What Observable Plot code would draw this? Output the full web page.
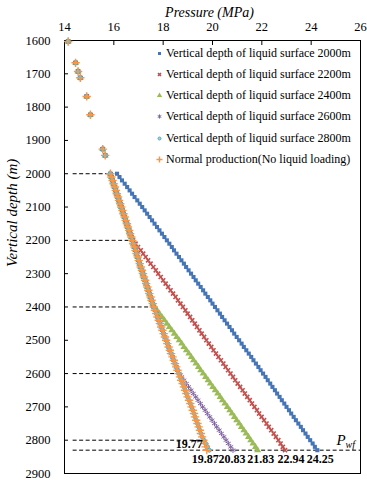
<!DOCTYPE html>
<html><head><meta charset="utf-8">
<script src="https://cdn.jsdelivr.net/npm/d3@7"></script>
<script src="https://cdn.jsdelivr.net/npm/@observablehq/plot@0.6"></script>
<style>
body{margin:0;background:#fff;}
#wrap{position:relative;width:367px;height:480px;}
#legend{position:absolute;left:155px;top:42.7px;font-family:'Liberation Serif','Times New Roman',serif;font-size:12px;color:#000;}
.row{height:21.2px;display:flex;align-items:center;white-space:nowrap;}
.row svg{margin-right:2px;}
</style></head><body><div id="wrap"><div id="legend"></div></div>
<script>
const xTicks = [14, 16, 18, 20, 22, 24, 26];
const yTicks = [1600, 1700, 1800, 1900, 2000, 2100, 2200, 2300, 2400, 2500, 2600, 2700, 2800, 2900];
const seriesNames = [
  "Vertical depth of liquid surface 2000m",
  "Vertical depth of liquid surface 2200m",
  "Vertical depth of liquid surface 2400m",
  "Vertical depth of liquid surface 2600m",
  "Vertical depth of liquid surface 2800m",
  "Normal production(No liquid loading)"
];
const surfaceDepth = [2000, 2200, 2400, 2600, 2800];

// gas column above 2000 m (shared by all series)
const upperDepth = [1603, 1667, 1693, 1712, 1768, 1823, 1926, 1945];
const upperPressure = [14.15, 14.45, 14.55, 14.64, 14.90, 15.05, 15.55, 15.65];

// depths from 2000 m to the bottom (Pwf depth 2830 m)
const depth = [2000,2010,2020,2030,2040,2050,2060,2070,2080,2090,
  2100,2110,2120,2130,2140,2150,2160,2170,2180,2190,
  2200,2210,2220,2230,2240,2250,2260,2270,2280,2290,
  2300,2310,2320,2330,2340,2350,2360,2370,2380,2390,
  2400,2410,2420,2430,2440,2450,2460,2470,2480,2490,
  2500,2510,2520,2530,2540,2550,2560,2570,2580,2590,
  2600,2610,2620,2630,2640,2650,2660,2670,2680,2690,
  2700,2710,2720,2730,2740,2750,2760,2770,2780,2790,
  2800,2810,2820,2830];

// normal production (gas only) pressure at each depth
const normalPressure = [15.86,15.90,15.95,15.99,16.04,16.08,16.12,16.17,16.21,16.26,
  16.30,16.35,16.39,16.44,16.48,16.53,16.57,16.62,16.66,16.71,
  16.75,16.79,16.84,16.88,16.92,16.97,17.01,17.05,17.09,17.14,
  17.18,17.22,17.27,17.31,17.36,17.40,17.44,17.49,17.53,17.58,
  17.62,17.67,17.72,17.77,17.82,17.87,17.92,17.97,18.02,18.07,
  18.12,18.17,18.22,18.27,18.32,18.38,18.43,18.48,18.53,18.58,
  18.63,18.68,18.73,18.79,18.84,18.89,18.94,18.99,19.05,19.10,
  19.15,19.20,19.25,19.29,19.34,19.39,19.44,19.49,19.53,19.58,
  19.63,19.68,19.72,19.77];

// pressures below each liquid surface (starting at the surface depth)
const liquid2000 = [16.13,16.23,16.33,16.44,16.54,16.64,16.74,16.84,16.95,17.05,
  17.15,17.25,17.35,17.45,17.55,17.65,17.75,17.85,17.95,18.05,
  18.15,18.25,18.35,18.44,18.54,18.64,18.74,18.84,18.93,19.03,
  19.13,19.23,19.32,19.42,19.52,19.62,19.71,19.81,19.91,20.00,
  20.10,20.20,20.30,20.39,20.49,20.59,20.69,20.79,20.88,20.98,
  21.08,21.18,21.27,21.37,21.47,21.57,21.66,21.76,21.86,21.95,
  22.05,22.15,22.24,22.34,22.43,22.53,22.62,22.72,22.81,22.91,
  23.00,23.10,23.19,23.29,23.38,23.48,23.58,23.67,23.77,23.86,
  23.96,24.06,24.15,24.25];
const liquid2200 = [16.78,16.88,16.98,17.09,17.19,17.29,17.39,17.49,17.60,17.70,
  17.80,17.90,18.00,18.10,18.20,18.30,18.40,18.50,18.60,18.70,
  18.80,18.90,18.99,19.09,19.18,19.28,19.37,19.47,19.56,19.66,
  19.75,19.85,19.95,20.04,20.14,20.24,20.34,20.44,20.53,20.63,
  20.73,20.83,20.92,21.02,21.12,21.22,21.31,21.41,21.51,21.60,
  21.70,21.80,21.89,21.99,22.09,22.19,22.28,22.38,22.48,22.57,
  22.67,22.76,22.85,22.94];
const liquid2400 = [17.65,17.75,17.85,17.95,18.05,18.15,18.25,18.35,18.45,18.55,
  18.65,18.75,18.84,18.94,19.04,19.14,19.23,19.33,19.43,19.52,
  19.62,19.72,19.82,19.91,20.01,20.11,20.21,20.31,20.40,20.50,
  20.60,20.70,20.79,20.89,20.98,21.08,21.17,21.27,21.36,21.46,
  21.55,21.64,21.74,21.83];
const liquid2600 = [18.65,18.75,18.84,18.94,19.03,19.13,19.22,19.32,19.41,19.51,
  19.60,19.70,19.79,19.89,19.98,20.08,20.17,20.27,20.36,20.46,
  20.55,20.64,20.74,20.83];
const liquid2800 = [19.65,19.72,19.80,19.87];

// reference lines and annotations
const dashDepth = [2000, 2200, 2400, 2600, 2800, 2830];
const dashFrom = [14.35, 14.35, 14.35, 14.35, 14.35, 14.35];
const dashTo = [15.90, 16.75, 17.62, 18.63, 19.64, 26];
const bottomDepth = 2830;
const endLabels = ["19.87", "20.83", "21.83", "22.94", "24.25"];
const endPressure = [19.87, 20.83, 21.83, 22.94, 24.25];
const normalEndLabel = "19.77";
const normalEndPressure = 19.77;

// ---- build tables ----
const liquids = [liquid2000, liquid2200, liquid2400, liquid2600, liquid2800];
const upperRows = upperDepth.map((d, i) => ({depth: d, p: upperPressure[i]}));
const seriesRows = liquids.map((L, k) => {
  const off = depth.indexOf(surfaceDepth[k]);
  return upperRows.concat(depth.map((d, i) => ({depth: d, p: i < off ? normalPressure[i] : L[i - off]})));
});
const normalRows = upperRows.concat(depth.map((d, i) => ({depth: d, p: normalPressure[i]})));
const dashRows = dashDepth.map((d, i) => ({depth: d, from: dashFrom[i], to: dashTo[i]}));
const labelRows = endLabels.map((t, i) => ({t, p: endPressure[i], depth: bottomDepth}));

const styles = [
  {symbol: "square", fill: "#4575B6", stroke: "none", r: 2.3},
  {symbol: "times", fill: "none", stroke: "#C0504D", r: 2.0, strokeWidth: 1.6},
  {symbol: "triangle", fill: "#9BBB59", stroke: "none", r: 2.6},
  {symbol: "asterisk", fill: "none", stroke: "#8064A2", r: 2.6, strokeWidth: 1},
  {symbol: "circle", fill: "#A5D5E3", stroke: "#4BACC6", r: 2.0, strokeWidth: 1},
  {symbol: "plus", fill: "none", stroke: "#F79646", r: 2.8, strokeWidth: 1.4}
];
// small horizontal nudges so the end labels sit side by side as in the reference
const labelNudge = [-4, -1, 3, 6, 3];

const font = "'Liberation Serif', 'Times New Roman', serif";
const dotMarks = seriesRows.map((rows, k) => Plot.dot(rows, {x: "p", y: "depth", ...styles[k]}));
dotMarks.push(Plot.dot(normalRows, {x: "p", y: "depth", ...styles[5]}));
const labelMarks = labelRows.map((r, i) => Plot.text([r], {x: "p", y: "depth", text: "t", dy: 9, dx: labelNudge[i], fontWeight: "bold", fontSize: 12}));

const chart = Plot.plot({
  width: 367,
  height: 480,
  marginLeft: 64,
  marginRight: 7,
  marginTop: 40,
  marginBottom: 7,
  style: {fontFamily: font, fontSize: "12.5px", color: "#000", background: "#fff", overflow: "visible"},
  x: {domain: [14, 26]},
  y: {domain: [1600, 2900], reverse: true},
  marks: [
    Plot.frame({stroke: "#000", strokeWidth: 1}),
    Plot.axisX(xTicks, {anchor: "top", tickSize: 4, dy: 4, text: null, label: null}),
    Plot.axisX(xTicks, {anchor: "top", tickSize: 0, tickPadding: 10, label: null, fontSize: 12.5, tickFormat: d => String(d)}),
    Plot.axisY(yTicks, {anchor: "left", tickSize: 4, dx: 4, text: null, label: null}),
    Plot.axisY(yTicks, {anchor: "left", tickSize: 0, tickPadding: 14, label: null, fontSize: 12.5, tickFormat: d => String(d)}),
    Plot.text(["Pressure (MPa)"], {frameAnchor: "top", dy: -33, fontStyle: "italic", fontSize: 14, dx: -3}),
    Plot.text(["Vertical depth (m)"], {frameAnchor: "left", rotate: -90, dx: -52, dy: 10, fontStyle: "italic", fontSize: 15}),
    Plot.ruleY(dashRows, {y: "depth", x1: "from", x2: "to", stroke: "#000", strokeWidth: 1, strokeDasharray: "4,2.5"}),
    ...dotMarks,
    ...labelMarks,
    Plot.text([normalEndLabel], {x: () => normalEndPressure, y: () => bottomDepth, textAnchor: "end", dx: -4, dy: -6, fontWeight: "bold", fontSize: 12}),
    Plot.text(["P"], {y: () => bottomDepth, frameAnchor: "right", textAnchor: "start", dx: -24, dy: -10, fontStyle: "italic", fontSize: 15}),
    Plot.text(["wf"], {y: () => bottomDepth, frameAnchor: "right", textAnchor: "start", dx: -15, dy: -5, fontStyle: "italic", fontSize: 10})
  ]
});

const wrap = document.getElementById("wrap");
wrap.insertBefore(chart, wrap.firstChild);

// legend inside the plot area
const legend = d3.select("#legend");
const symMap = {square: d3.symbolSquare, times: d3.symbolTimes, triangle: d3.symbolTriangle, asterisk: d3.symbolAsterisk, circle: d3.symbolCircle, plus: d3.symbolPlus};
seriesNames.forEach((name, k) => {
  const s = styles[k];
  const row = legend.append("div").attr("class", "row");
  const svg = row.append("svg").attr("width", 9).attr("height", 9);
  svg.append("path")
    .attr("transform", "translate(4.5,4.5)")
    .attr("d", d3.symbol(symMap[s.symbol], Math.PI * (s.r * 0.75) ** 2)())
    .attr("fill", s.fill)
    .attr("stroke", s.stroke)
    .attr("stroke-width", s.strokeWidth || 1);
  row.append("span").text(name);
});
</script></body></html>
